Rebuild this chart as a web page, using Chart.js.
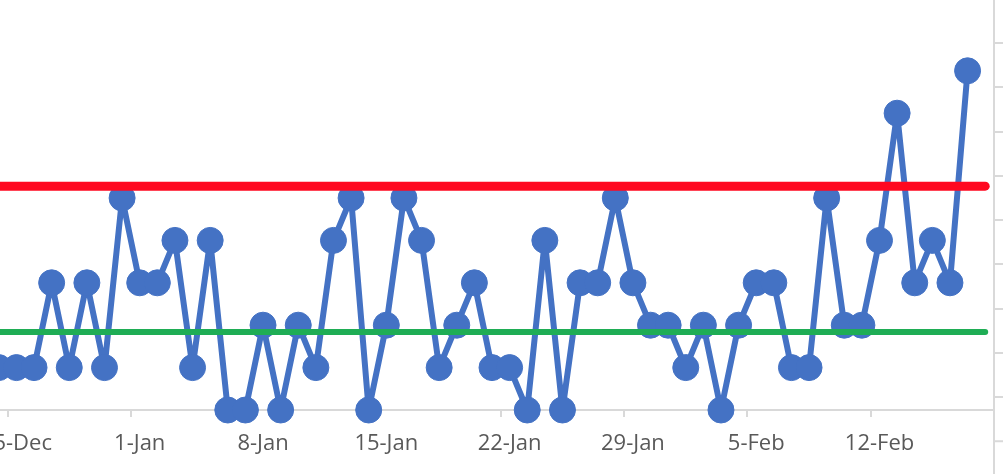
<!DOCTYPE html>
<html>
<head>
<meta charset="utf-8">
<script src="https://cdn.jsdelivr.net/npm/chart.js@4"></script>
<style>
  html, body { margin: 0; padding: 0; background: #fff; overflow: hidden; }
  #wrap { position: relative; width: 1004px; height: 474px; overflow: hidden; }
  #c { position: absolute; left: -40px; top: 0; }
</style>
</head>
<body>
<div id="wrap"><canvas id="c" width="1054" height="474"></canvas></div>
<script>
// days shown, 24-Dec .. 18-Feb (last one has no value)
var days = [
    "24-Dec", "25-Dec", "26-Dec", "27-Dec", "28-Dec", "29-Dec", "30-Dec", "31-Dec",
    "1-Jan", "2-Jan", "3-Jan", "4-Jan", "5-Jan", "6-Jan", "7-Jan", "8-Jan",
    "9-Jan", "10-Jan", "11-Jan", "12-Jan", "13-Jan", "14-Jan", "15-Jan", "16-Jan",
    "17-Jan", "18-Jan", "19-Jan", "20-Jan", "21-Jan", "22-Jan", "23-Jan", "24-Jan",
    "25-Jan", "26-Jan", "27-Jan", "28-Jan", "29-Jan", "30-Jan", "31-Jan", "1-Feb",
    "2-Feb", "3-Feb", "4-Feb", "5-Feb", "6-Feb", "7-Feb", "8-Feb", "9-Feb",
    "10-Feb", "11-Feb", "12-Feb", "13-Feb", "14-Feb", "15-Feb", "16-Feb", "17-Feb",
    "18-Feb"
];
var counts = [
    1, 1, 1, 3, 1, 3, 1, 5,
    3, 3, 4, 1, 4, 0, 0, 2,
    0, 2, 1, 4, 5, 0, 2, 5,
    4, 1, 2, 3, 1, 1, 0, 4,
    0, 3, 3, 5, 3, 2, 2, 1,
    2, 0, 2, 3, 3, 1, 1, 5,
    2, 2, 4, 7, 3, 4, 3, 8
];
var upper = 5.28;
var centre = 1.84;

var lastDay = days[days.length - 1];

// right axis continues below the x axis
var rightAxisTail = {
    id: "rightAxisTail",
    afterDraw: function (ch) {
        var s = ch.scales.y2;
        var x = s.left;
        var ctx = ch.ctx;
        ctx.save();
        ctx.strokeStyle = "#D9D9D9";
        ctx.lineWidth = 2;
        ctx.beginPath();
        ctx.moveTo(x, ch.chartArea.bottom);
        ctx.lineTo(x, ch.height);
        var py = s.getPixelForValue(-1);
        ctx.moveTo(x, py);
        ctx.lineTo(x + 9, py);
        ctx.stroke();
        ctx.restore();
    }
};

new Chart(document.getElementById("c"), {
    type: "line",
    data: {
        labels: days,
        datasets: [
            {
                label: "UCL",
                data: [{ x: days[0], y: upper }, { x: lastDay, y: upper }],
                borderColor: "#FF0820",
                borderWidth: 9,
                borderCapStyle: "round",
                pointRadius: 0
            },
            {
                label: "mean",
                data: [{ x: days[0], y: centre }, { x: lastDay, y: centre }],
                borderColor: "#1FAD55",
                borderWidth: 6,
                borderCapStyle: "round",
                pointRadius: 0
            },
            {
                label: "count",
                data: counts,
                borderColor: "#4472C4",
                backgroundColor: "#4472C4",
                borderWidth: 6,
                borderJoinStyle: "round",
                pointRadius: 13,
                pointBorderWidth: 1,
                pointHoverRadius: 13,
                clip: false
            }
        ]
    },
    options: {
        responsive: false,
        animation: false,
        layout: { autoPadding: false, padding: { left: 30, right: 0, top: 0, bottom: 0 } },
        plugins: {
            legend: { display: false },
            tooltip: { enabled: false }
        },
        scales: {
            x: {
                type: "category",
                offset: true,
                afterFit: function (s) { s.height = 64; },
                grid: {
                    offset: true,
                    drawOnChartArea: false,
                    drawTicks: true,
                    tickLength: 7,
                    lineWidth: 2,
                    color: function (c) {
                        return c.type === "tick" && c.index % 7 === 1 ? "#D9D9D9" : "rgba(0,0,0,0)";
                    }
                },
                border: { color: "#D9D9D9", width: 2 },
                ticks: {
                    autoSkip: false,
                    maxRotation: 0,
                    padding: 14,
                    color: "#595959",
                    font: { family: "'Open Sans'", size: 22 },
                    callback: function (v, i) {
                        return i % 7 === 1 ? this.getLabelForValue(v) : "";
                    }
                }
            },
            y: {
                display: false,
                min: 0,
                max: 410 / 42.4
            },
            y2: {
                position: "right",
                min: -0.2938,
                max: 8.972,
                afterFit: function (s) { s.width = 20; },
                grid: {
                    drawOnChartArea: false,
                    drawTicks: true,
                    tickLength: 9,
                    lineWidth: 2,
                    color: "#D9D9D9"
                },
                border: { color: "#D9D9D9", width: 2 },
                ticks: { stepSize: 1, includeBounds: false, display: false }
            }
        }
    },
    plugins: [rightAxisTail]
});
</script>
</body>
</html>
